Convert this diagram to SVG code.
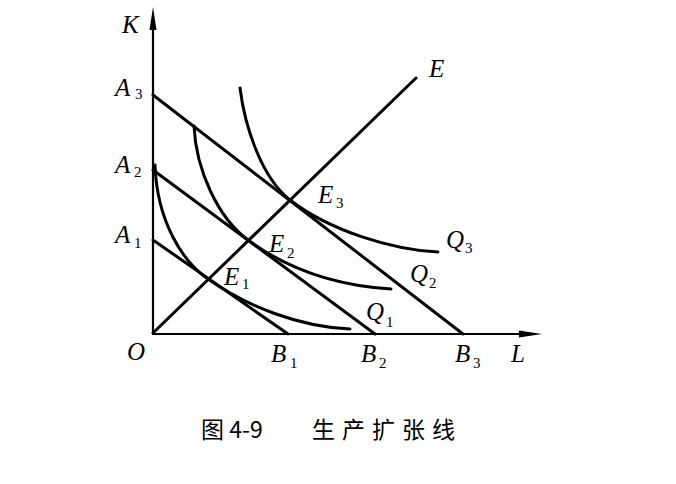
<svg xmlns="http://www.w3.org/2000/svg" width="676" height="484" viewBox="0 0 676 484">
<style>
.ax{stroke:#000;stroke-width:2.2;fill:none}
.ln{stroke:#000;stroke-width:3;fill:none;stroke-linecap:round}
.lb{font-family:"Liberation Serif","Times New Roman",serif;font-style:italic;font-size:25px;fill:#000}
.sb{font-style:normal;font-size:15px}
.cap{font-family:"Noto Sans CJK SC","Noto Sans",sans-serif;font-size:23px;fill:#000}
</style>
<rect width="676" height="484" fill="#fff"/>
<g id="axes">
<line class="ax" x1="153" y1="334" x2="153" y2="26"/>
<polygon points="153,7 149.5,30 156.5,30" fill="#000"/>
<line class="ax" x1="152" y1="334" x2="522" y2="334"/>
<polygon points="542,334 519,330.5 519,337.5" fill="#000"/>
</g>
<g id="connectors">
<line id="budget-A3B3" class="ln" x1="153" y1="95" x2="463" y2="334"/>
<line id="budget-A2B2" class="ln" x1="153" y1="170" x2="375" y2="334"/>
<line id="budget-A1B1" class="ln" x1="153" y1="240" x2="288" y2="334"/>
<line id="expansion-E" class="ln" x1="153" y1="333" x2="416" y2="78"/>
<path id="isoquant-Q3" class="ln" d="M240,88 C245,128 262,178 290,200 C330,231 393,250 438,252"/>
<path id="isoquant-Q2" class="ln" d="M194,126 C196,170 218,218 248,240 C293,273 341,286 391,289"/>
<path id="isoquant-Q1" class="ln" d="M155,165 C157,222 183,262 208,279 C248,307 300,327 350,329"/>
</g>
<g id="labels">
<text class="lb" x="122" y="33">K</text>
<text class="lb" x="115" y="96">A<tspan class="sb" x="135" y="99">3</tspan></text>
<text class="lb" x="115" y="173">A<tspan class="sb" x="134" y="177">2</tspan></text>
<text class="lb" x="115" y="243">A<tspan class="sb" x="134" y="248">1</tspan></text>
<text class="lb" x="127" y="360">O</text>
<text class="lb" x="429" y="77">E</text>
<text class="lb" x="318" y="203">E<tspan class="sb" x="336" y="208">3</tspan></text>
<text class="lb" x="269" y="252">E<tspan class="sb" x="287" y="258">2</tspan></text>
<text class="lb" x="224" y="285">E<tspan class="sb" x="242" y="289">1</tspan></text>
<text class="lb" x="446" y="248">Q<tspan class="sb" x="465" y="253">3</tspan></text>
<text class="lb" x="410" y="282">Q<tspan class="sb" x="429" y="288">2</tspan></text>
<text class="lb" x="366" y="320">Q<tspan class="sb" x="386" y="327">1</tspan></text>
<text class="lb" x="271" y="362">B<tspan class="sb" x="290" y="368">1</tspan></text>
<text class="lb" x="361" y="362">B<tspan class="sb" x="379" y="368">2</tspan></text>
<text class="lb" x="455" y="362">B<tspan class="sb" x="473" y="368">3</tspan></text>
<text class="lb" x="511" y="362">L</text>
</g>
<g id="caption">
<text class="cap" x="201" y="438">图 4-9</text>
<text class="cap" x="312" y="438" letter-spacing="7">生产扩张线</text>
</g>
</svg>
